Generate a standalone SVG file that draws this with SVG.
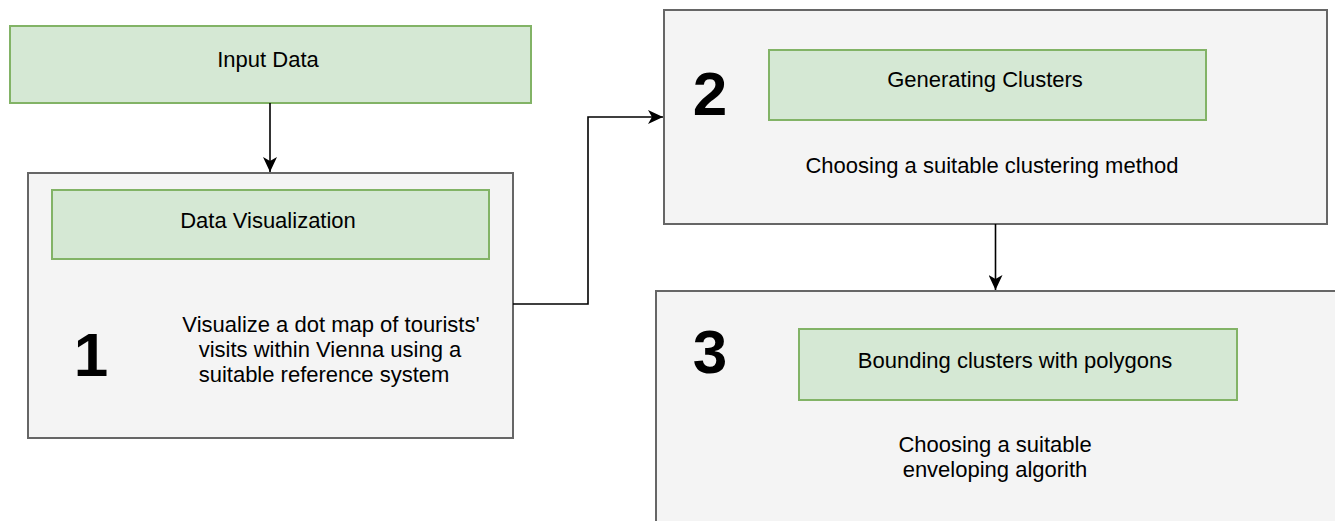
<svg xmlns="http://www.w3.org/2000/svg" width="1335" height="521" viewBox="0 0 1335 521">
  <style>
    .green { fill: #d5e8d4; stroke: #82b366; stroke-width: 2; }
    .gray { fill: #f4f4f4; stroke: #666666; stroke-width: 2; }
    .t { font-family: "Liberation Sans", Arial, sans-serif; font-size: 22px; fill: #000; text-anchor: middle; }
    .num { font-family: "Liberation Sans", Arial, sans-serif; font-size: 62px; font-weight: bold; fill: #000; text-anchor: middle; }
    .edge { fill: none; stroke: #000; stroke-width: 1.6; }
  </style>
  <defs>
    <marker id="arrow" markerUnits="userSpaceOnUse" markerWidth="16" markerHeight="14" viewBox="0 0 16 14" refX="15" refY="7" orient="auto">
      <path d="M0,0 L15,7 L0,14 L4,7 Z" fill="#000"/>
    </marker>
  </defs>

  <g id="node-input">
    <rect class="green" x="10" y="26" width="521" height="77"/>
    <text class="t" x="268" y="67">Input Data</text>
  </g>

  <g id="node-step1">
    <rect class="gray" x="28" y="173" width="485" height="265"/>
    <rect class="green" x="52" y="190" width="437" height="69"/>
    <text class="t" x="268" y="228">Data Visualization</text>
    <text class="num" x="91" y="376">1</text>
    <text class="t" x="331" y="332">Visualize a dot map of tourists'</text>
    <text class="t" x="330" y="357">visits within Vienna using a</text>
    <text class="t" x="324" y="382">suitable reference system</text>
  </g>

  <g id="node-step2">
    <rect class="gray" x="664" y="10" width="663" height="214"/>
    <rect class="green" x="769" y="50" width="437" height="70"/>
    <text class="t" x="985" y="87">Generating Clusters</text>
    <text class="num" x="710" y="115">2</text>
    <text class="t" x="992" y="173">Choosing a suitable clustering method</text>
  </g>

  <g id="node-step3">
    <rect class="gray" x="656" y="291" width="700" height="260"/>
    <rect class="green" x="799" y="329" width="438" height="71"/>
    <text class="t" x="1015" y="368">Bounding clusters with polygons</text>
    <text class="num" x="710" y="373">3</text>
    <text class="t" x="995" y="452">Choosing a suitable</text>
    <text class="t" x="995" y="477">enveloping algorith</text>
  </g>

  <g id="connectors">
    <path class="edge" d="M270,103 L270,172" marker-end="url(#arrow)"/>
    <path class="edge" d="M513,304 L588,304 L588,117 L663,117" marker-end="url(#arrow)"/>
    <path class="edge" d="M995.5,224 L995.5,290" marker-end="url(#arrow)"/>
  </g>
</svg>
